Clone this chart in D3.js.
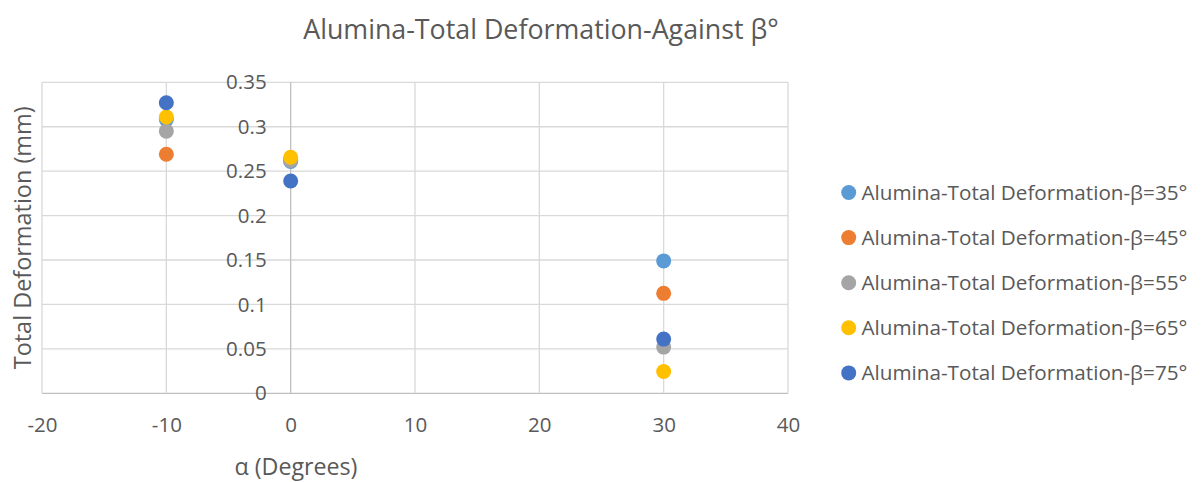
<!DOCTYPE html>
<html>
<head>
<meta charset="utf-8">
<script src="https://cdn.jsdelivr.net/npm/d3@7"></script>
<style>
  html, body { margin: 0; padding: 0; background: #fff; }
  svg { display: block; }
  text { font-family: "Open Sans", "Noto Sans", sans-serif; fill: #595959; }
</style>
</head>
<body>
<svg id="chart" width="1201" height="482"></svg>
<script>
// α positions (degrees)
const alphas = [-10, 0, 30];

// Total deformation (mm) per β series, one value per α
const series = [
  { name: "Alumina-Total Deformation-β=35°", color: "#5B9BD5", values: [0.308, 0.261, 0.149] },
  { name: "Alumina-Total Deformation-β=45°", color: "#ED7D31", values: [0.269, 0.263, 0.1125] },
  { name: "Alumina-Total Deformation-β=55°", color: "#A5A5A5", values: [0.295, 0.262, 0.052] },
  { name: "Alumina-Total Deformation-β=65°", color: "#FFC000", values: [0.311, 0.2656, 0.0245] },
  { name: "Alumina-Total Deformation-β=75°", color: "#4472C4", values: [0.327, 0.239, 0.061] }
];

const xTicks = [-20, -10, 0, 10, 20, 30, 40];
const yTicks = [0, 0.05, 0.1, 0.15, 0.2, 0.25, 0.3, 0.35];

const svg = d3.select("#chart");
const plot = { left: 42, right: 788, top: 82.3, bottom: 393.3 };

const x = d3.scaleLinear().domain([-20, 40]).range([plot.left, plot.right]);
const y = d3.scaleLinear().domain([0, 0.35]).range([plot.bottom, plot.top]);

// scale a text's font size so it spans the given width
function fitWidth(sel, target) {
  const node = sel.node();
  const size = parseFloat(sel.style("font-size"));
  const w = node.getComputedTextLength();
  sel.style("font-size", (size * target / w) + "px");
}

// gridlines
svg.append("g").selectAll("line.h").data(yTicks).join("line")
  .attr("x1", plot.left).attr("x2", plot.right)
  .attr("y1", d => y(d)).attr("y2", d => y(d))
  .attr("stroke", d => d === 0 ? "#BFBFBF" : "#D9D9D9").attr("stroke-width", 1.3);
svg.append("g").selectAll("line.v").data(xTicks).join("line")
  .attr("y1", plot.top).attr("y2", plot.bottom)
  .attr("x1", d => x(d)).attr("x2", d => x(d))
  .attr("stroke", d => d === 0 ? "#BFBFBF" : "#D9D9D9").attr("stroke-width", 1.3);

// y axis sits on α = 0
const yAxis = svg.append("g")
  .attr("transform", `translate(${x(0)},0)`)
  .call(d3.axisLeft(y).tickValues(yTicks).tickSize(0).tickPadding(24).tickFormat(d => String(d)));
yAxis.select(".domain").remove();
yAxis.selectAll("text").style("font-size", "20.5px").attr("fill", "#595959")
  .style("font-family", "'Open Sans', sans-serif");

// x axis along deformation = 0
const xAxis = svg.append("g")
  .attr("transform", `translate(0,${y(0)})`)
  .call(d3.axisBottom(x).tickValues(xTicks).tickSize(0).tickFormat(d => String(d)));
xAxis.select(".domain").remove();
xAxis.selectAll("text").attr("y", 32).attr("dy", "0.35em")
  .style("font-size", "20.5px").attr("fill", "#595959")
  .style("font-family", "'Open Sans', sans-serif");

// points, drawn series by series
series.forEach(s => {
  svg.append("g").selectAll("circle").data(s.values.map((v, i) => ({ a: alphas[i], v })))
    .join("circle")
    .attr("cx", d => x(d.a)).attr("cy", d => y(d.v))
    .attr("r", 7.5).attr("fill", s.color);
});

// title
const title = svg.append("text")
  .attr("x", 541).attr("y", 30).attr("dy", "0.35em").attr("text-anchor", "middle")
  .style("font-size", "30px").text("Alumina-Total Deformation-Against β°");
fitWidth(title, 476);

// axis titles
const yTitle = svg.append("text")
  .attr("transform", `translate(23,${(plot.top + plot.bottom) / 2}) rotate(-90)`)
  .attr("dy", "0.35em").attr("text-anchor", "middle")
  .style("font-size", "19px").text("Total Deformation (mm)");
fitWidth(yTitle, 263);

const xTitle = svg.append("text")
  .attr("x", 296).attr("y", 467).attr("dy", "0.35em").attr("text-anchor", "middle")
  .style("font-size", "19px").text("α (Degrees)");
fitWidth(xTitle, 123);

// legend
const legend = svg.append("g");
series.forEach((s, i) => {
  const cy = 192.5 + i * 45.1;
  legend.append("circle").attr("cx", 848.7).attr("cy", cy).attr("r", 7.5).attr("fill", s.color);
  const t = legend.append("text").attr("x", 861.5).attr("y", cy).attr("dy", "0.35em")
    .style("font-size", "18px").text(s.name);
  fitWidth(t, 326);
});
</script>
</body>
</html>
